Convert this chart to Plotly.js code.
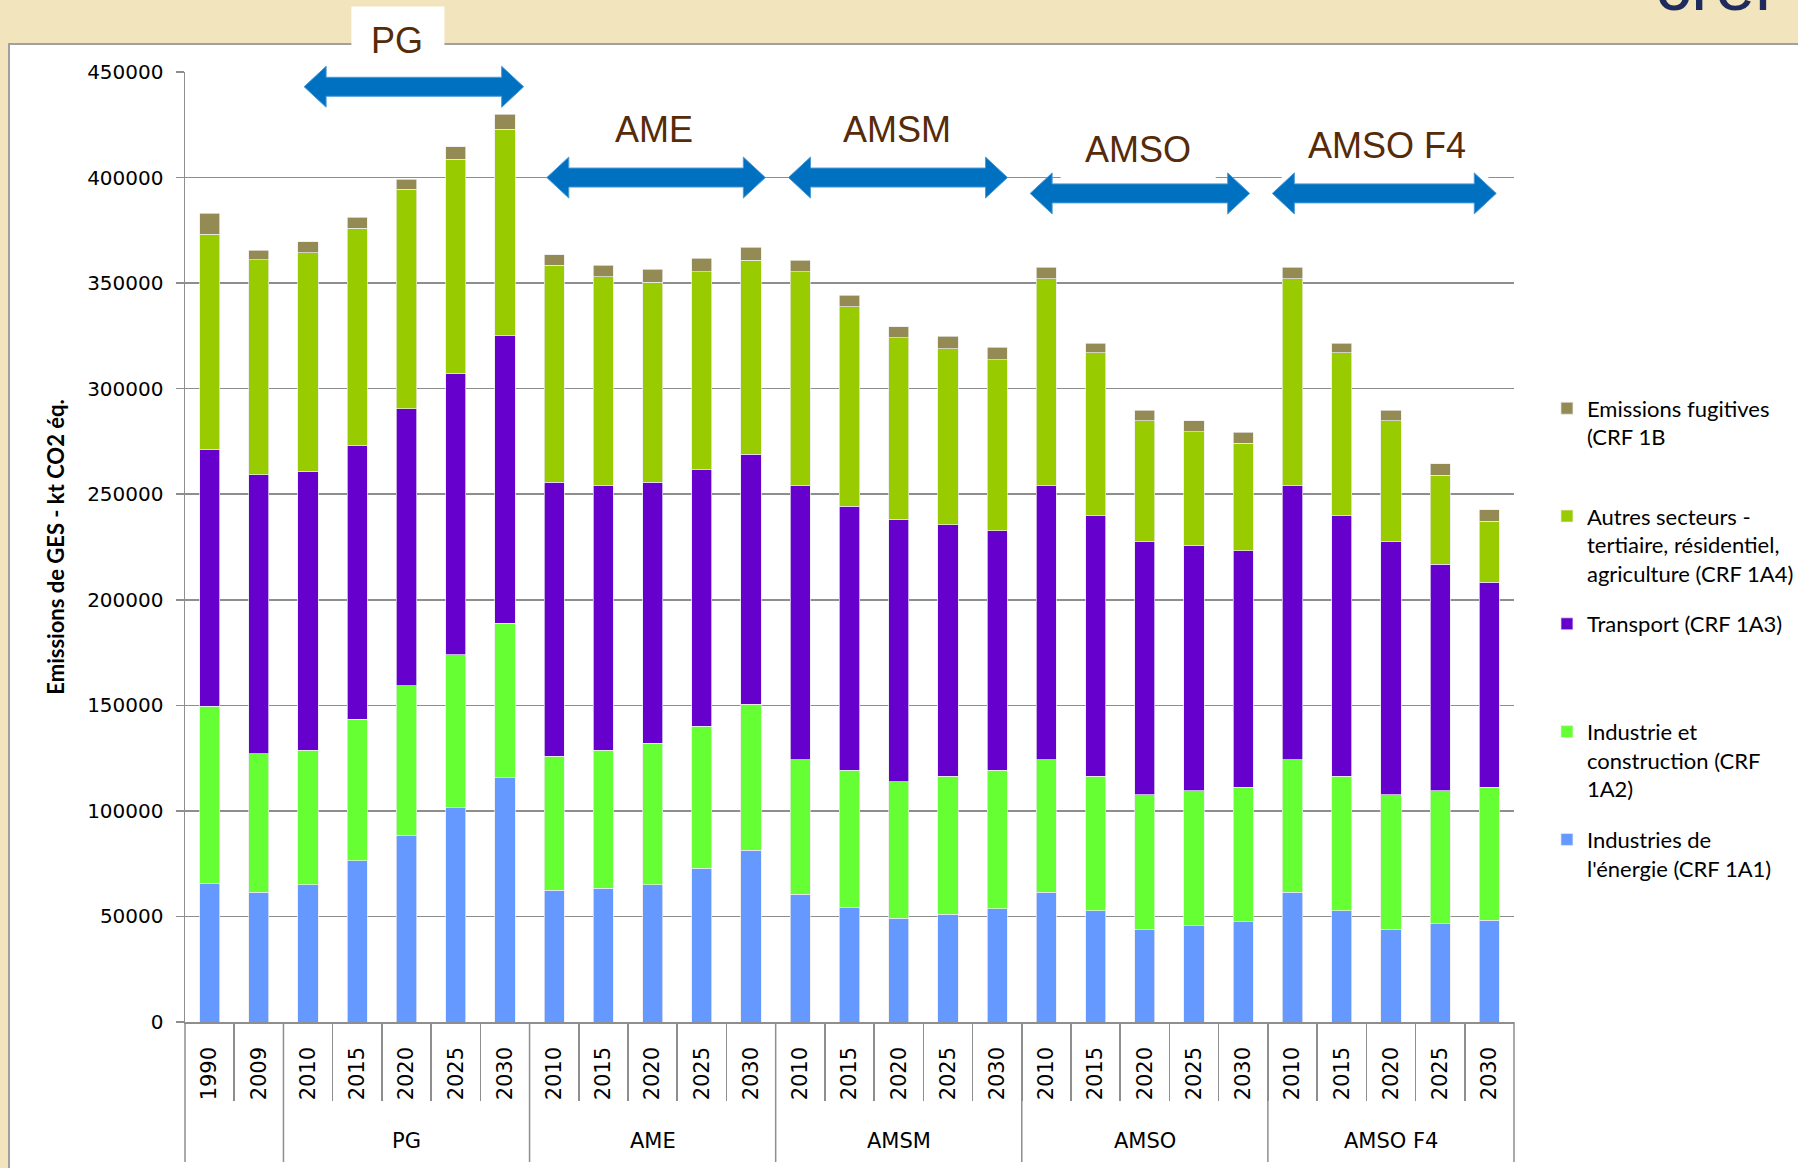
<!DOCTYPE html>
<html><head><meta charset="utf-8">
<script src="https://cdn.plot.ly/plotly-3.0.1.min.js"></script>
<style>html,body{margin:0;padding:0;background:#F2E4BC;} #chart{width:1798px;height:1168px;}</style>
</head><body><div id="chart"></div>
<script>
// ---------- DATA (kt CO2 éq.) ----------
const scenarios = ["","","PG","PG","PG","PG","PG","AME","AME","AME","AME","AME","AMSM","AMSM","AMSM","AMSM","AMSM","AMSO","AMSO","AMSO","AMSO","AMSO","AMSO F4","AMSO F4","AMSO F4","AMSO F4","AMSO F4"];
const years = ["1990","2009","2010","2015","2020","2025","2030","2010","2015","2020","2025","2030","2010","2015","2020","2025","2030","2010","2015","2020","2025","2030","2010","2015","2020","2025","2030"];
const energie   = [65700,61400,65000,76400,88500,101600,115600,62400,63300,65000,72800,81400,60600,54300,49100,51000,53700,61400,52800,43900,45700,47400,61400,52800,43900,46500,48200];
const industrie = [83900,65700,63700,67100,70700,72400,73400,63600,65400,67100,67200,69000,63700,64900,64800,65400,65500,62900,63600,63800,63800,63800,62900,63600,63800,63000,63000];
const transport = [121700,132200,132200,129500,131400,133400,136000,129600,125300,123500,121700,118500,129700,125000,124300,119200,113600,129700,123300,119900,116300,112100,129700,123300,119900,107400,97000];
const autres    = [101900,101800,103500,103100,103800,101300,97900,102800,99000,94900,93800,92000,101500,94700,85900,83200,80800,98100,77200,57100,53700,50900,98100,77200,57100,42100,29000];
const fugitives = [9800,4400,5300,5000,4800,6000,7200,5100,5400,6000,6200,6200,5300,5300,5200,6100,6000,5300,4500,5000,5200,5100,5300,4500,5000,5400,5400];
const seriesNames = [
  "Industries de<br>l'énergie (CRF 1A1)",
  "Industrie et<br>construction (CRF<br>1A2)",
  "Transport (CRF 1A3)",
  "Autres secteurs -<br>tertiaire, résidentiel,<br>agriculture (CRF 1A4)",
  "Emissions fugitives<br>(CRF 1B"
];
const seriesColors = ["#6699FF","#66FF33","#6600CC","#99CC00","#948A54"];
const yTitle = "Emissions de GES - kt CO2 éq.";
const scenarioBanners = ["PG","AME","AMSM","AMSO","AMSO F4"];

// ---------- GEOMETRY ----------
const W=1798,H=1168,ML=185,MR=284,MT=72,MB=146;
const PW=W-ML-MR, PH=H-MT-MB, N=years.length, YMAX=450000;
const catX = k => (k+0.5)/N;
const valY = v => v/YMAX;
const pxX = p => p/PW, pxY = p => p/PH;

// unique category keys (scenario | year); years are shown as tick text
const xKeys = years.map((y,i)=>(scenarios[i]||'Hist')+'|'+y);

// banner layout (category units / axis values)
const bannerLayout = [
  {from:1.92, to:6.38, level:443000, lk:3.81, lv:465000, box:[2.88,4.77,449500,481000]},
  {from:6.85, to:11.29, level:400000, lk:9.03, lv:422600},
  {from:11.76,to:16.21, level:400000, lk:13.97,lv:422600},
  {from:16.67,to:21.13, level:392500, lk:18.86,lv:413100, box:[17.29,20.44,398800,428000]},
  {from:21.59,to:26.14, level:392500, lk:23.92,lv:415000, box:[21.78,25.98,398800,428000]}
];

function arrowPath(k0,k1,level){
  const x0=catX(k0), x1=catX(k1), y=valY(level);
  const hl=pxX(22), hh=pxY(20.5), sh=pxY(9.5);
  return `M${x0},${y} L${x0+hl},${y+hh} L${x0+hl},${y+sh} L${x1-hl},${y+sh} L${x1-hl},${y+hh} L${x1},${y} L${x1-hl},${y-hh} L${x1-hl},${y-sh} L${x0+hl},${y-sh} L${x0+hl},${y-hh} Z`;
}
function padLines(s, n){
  let c = s.split('<br>').length;
  while(c < n){ s += '<br>\u00a0'; c++; }
  return s;
}

const vals = [energie, industrie, transport, autres, fugitives];
const traces = vals.map((v,i)=>({
  type:'bar', x:xKeys, y:v, name:padLines(seriesNames[i],3), legendgroup:'g'+i, legendrank:10-i,
  marker:{color:seriesColors[i], line:{color:'rgba(235,235,235,0.9)', width:0.8}},
  hoverinfo:'y'
}));
traces.push({type:'scatter', x:[], y:[], xaxis:'x2', showlegend:false, hoverinfo:'skip'});

const gray='#8E8E8E';
const shapes = [];
shapes.push({type:'rect', xref:'paper', yref:'paper', layer:'below',
  x0:pxX(9-ML), x1:pxX(1810-ML), y0:-pxY(160), y1:1+pxY(MT-44),
  fillcolor:'#FFFFFF', line:{color:'#A0A0A0', width:2}});

// scenario groups along the x axis (from the scenarios array)
const groups = [];
scenarios.forEach((s,i)=>{
  if(!groups.length || groups[groups.length-1].name!==s) groups.push({name:s, start:i, end:i});
  else groups[groups.length-1].end=i;
});
const divBottom = -pxY(1162-(H-MB));
groups.forEach(g=>{
  shapes.push({type:'line', xref:'paper', yref:'paper', layer:'below', x0:catX(g.start-0.5), x1:catX(g.start-0.5),
    y0:0, y1:divBottom, line:{color:gray, width:1.5}});
});
shapes.push({type:'line', xref:'paper', yref:'paper', layer:'below', x0:catX(N-0.5), x1:catX(N-0.5),
  y0:0, y1:divBottom, line:{color:gray, width:1.5}});

bannerLayout.forEach(b=>{
  if(b.box){
    shapes.push({type:'rect', xref:'paper', yref:'paper', layer:'above',
      x0:catX(b.box[0]), x1:catX(b.box[1]), y0:valY(b.box[2]), y1:valY(b.box[3]),
      fillcolor:'#FFFFFF', line:{width:0}});
  }
});
bannerLayout.forEach(b=>{
  shapes.push({type:'path', xref:'paper', yref:'paper', layer:'above',
    path:arrowPath(b.from,b.to,b.level), fillcolor:'#0070C0', line:{color:'#4A9AD8', width:1}});
});

const annotations = bannerLayout.map((b,i)=>({
  xref:'paper', yref:'paper', x:catX(b.lk), y:valY(b.lv), text:scenarioBanners[i],
  showarrow:false, xanchor:'center', yanchor:'middle',
  font:{family:'Liberation Sans, Arial, sans-serif', size:36, color:'#552B09'}
}));
groups.forEach(g=>{
  if(!g.name) return;
  annotations.push({xref:'paper', yref:'paper', x:catX((g.start+g.end)/2), y:-pxY(1141-(H-MB)),
    text:g.name, showarrow:false, xanchor:'center', yanchor:'middle',
    font:{family:'DejaVu Sans, sans-serif', size:21, color:'#000'}});
});
annotations.push({xref:'paper', yref:'paper', x:pxX(1653-ML), y:1+pxY(MT-27), text:'crei',
  showarrow:false, xanchor:'left', yanchor:'bottom',
  font:{family:'Liberation Sans, Arial, sans-serif', size:72, color:'#1F2B5C'}});

const layout = {
  width:W, height:H,
  margin:{l:ML, r:MR, t:MT, b:MB, pad:0, autoexpand:false},
  paper_bgcolor:'#F2E4BC', plot_bgcolor:'rgba(0,0,0,0)',
  barmode:'stack', bargap:0.59,
  showlegend:true,
  legend:{x:1.0248, xanchor:'left', y:0.668, yanchor:'top', traceorder:'grouped',
    tracegroupgap:19, valign:'top', bgcolor:'rgba(0,0,0,0)',
    font:{family:'Lato, sans-serif', size:22, color:'#000'}},
  xaxis:{type:'category', tickmode:'array', tickvals:xKeys, ticktext:years, tickangle:-90, ticks:'',
    showline:true, linecolor:gray, linewidth:1.5, showgrid:false, ticklabelstandoff:15,
    tickfont:{family:'DejaVu Sans, sans-serif', size:21, color:'#000'}},
  xaxis2:{overlaying:'x', anchor:'y', side:'bottom', range:[-0.5,N-0.5], tickmode:'array',
    tickvals:years.slice(1).map((_,i)=>i+0.5), ticks:'outside', ticklen:78, tickwidth:1.5, tickcolor:gray,
    showticklabels:false, showgrid:false, zeroline:false, showline:false},
  yaxis:{range:[0,YMAX], dtick:50000, tickformat:'d', ticks:'outside', ticklen:8, tickwidth:1.5, tickcolor:gray,
    showline:true, linecolor:gray, linewidth:1.5, gridcolor:gray, gridwidth:1.5, zeroline:false,
    ticklabelstandoff:8,
    tickfont:{family:'DejaVu Sans, sans-serif', size:20, color:'#000'},
    title:{text:yTitle, standoff:16, font:{family:'Lato, sans-serif', size:22, color:'#000', weight:'bold'}}},
  shapes:shapes, annotations:annotations
};
Plotly.newPlot('chart', traces, layout, {displayModeBar:false, staticPlot:true});
</script></body></html>
